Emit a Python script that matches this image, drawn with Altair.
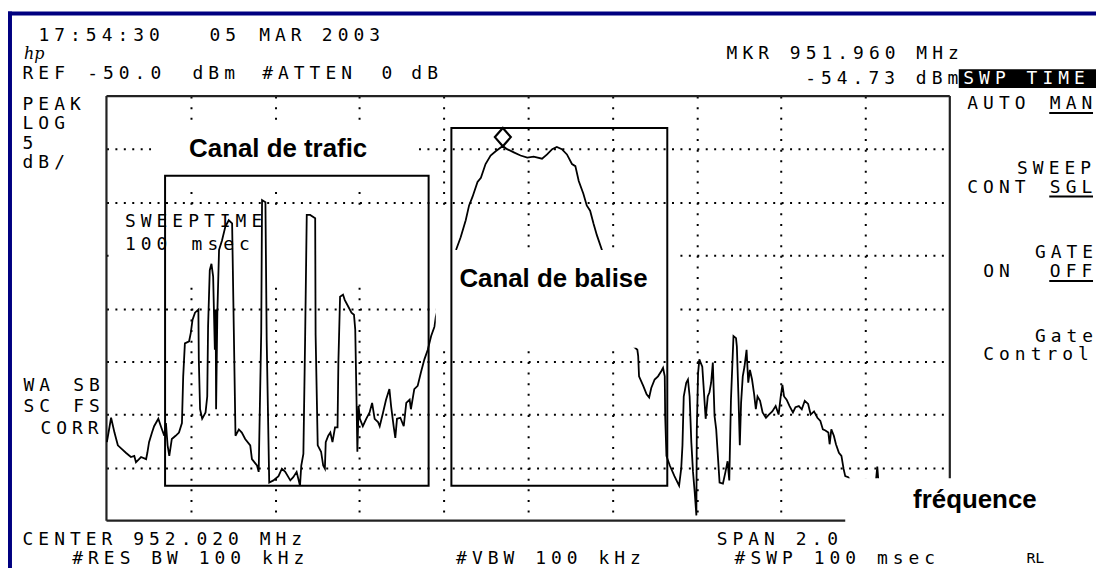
import altair as alt
import pandas as pd

# ---------------- trace ----------------
# frequency in MHz, level in dBm
freq_1 = [951.021, 951.031, 951.039, 951.047, 951.058, 951.066, 951.078, 951.086, 951.090, 951.102,
          951.114, 951.117, 951.121, 951.128, 951.133, 951.143, 951.149, 951.157, 951.161, 951.165,
          951.169, 951.175, 951.184, 951.192, 951.199, 951.202, 951.206, 951.216, 951.220, 951.224,
          951.230, 951.238, 951.239, 951.242, 951.247, 951.255, 951.259, 951.261, 951.265, 951.269,
          951.273, 951.277, 951.279, 951.280, 951.283, 951.287, 951.294, 951.302, 951.310, 951.318,
          951.322, 951.326, 951.334, 951.341, 951.349, 951.361, 951.365, 951.377, 951.381, 951.387,
          951.389, 951.397, 951.400, 951.406, 951.416, 951.428]
level_1 = [-82.6, -80.3, -81.7, -82.9, -83.3, -83.6, -84.0, -83.9, -84.5, -84.0,
           -84.2, -83.6, -82.6, -81.7, -81.1, -80.4, -81.1, -82.0, -80.8, -82.9,
           -83.9, -82.3, -82.0, -81.7, -80.8, -76.4, -73.3, -73.1, -72.3, -71.1,
           -70.4, -70.1, -74.8, -79.5, -80.4, -79.8, -78.3, -71.7, -66.4, -65.8,
           -67.0, -73.9, -70.1, -79.5, -70.4, -64.5, -63.6, -62.3, -61.7, -62.0,
           -72.0, -82.0, -81.4, -81.7, -82.3, -82.9, -84.2, -84.8, -85.4, -72.3,
           -59.8, -60.0, -73.0, -86.4, -86.2, -85.8]

freq_2 = [951.436, 951.444, 951.456, 951.463, 951.471, 951.479, 951.482, 951.487, 951.491, 951.495,
          951.503, 951.515, 951.516, 951.521, 951.529, 951.534, 951.538, 951.540, 951.546, 951.551,
          951.556, 951.562, 951.568, 951.570, 951.574, 951.581, 951.585, 951.593, 951.601, 951.607,
          951.610, 951.613, 951.615, 951.618, 951.621, 951.628, 951.636, 951.644, 951.650, 951.656,
          951.664, 951.668, 951.676, 951.683, 951.691, 951.695, 951.701, 951.705, 951.709, 951.717,
          951.725, 951.731, 951.739, 951.742, 951.750, 951.758, 951.766, 951.774, 951.782, 951.790,
          951.798, 951.801, 951.817, 951.834]
level_2 = [-85.1, -85.4, -86.2, -85.9, -85.4, -86.7, -84.8, -83.7, -73.2, -61.2,
           -61.2, -61.5, -72.5, -82.9, -83.5, -84.8, -85.1, -82.6, -82.0, -81.7,
           -82.6, -81.2, -81.2, -75.1, -68.9, -68.7, -69.2, -69.8, -70.4, -70.6,
           -72.0, -78.6, -83.5, -79.2, -80.4, -81.1, -80.4, -79.8, -78.9, -80.4,
           -80.7, -81.1, -79.8, -78.6, -77.6, -79.2, -81.1, -82.2, -80.4, -80.3,
           -81.1, -78.9, -78.6, -79.5, -77.6, -77.3, -76.0, -74.8, -73.9, -72.6,
           -71.7, -70.8, -68.3, -65.9]

freq_3 = [951.849, 951.860, 951.872, 951.880, 951.888, 951.900, 951.908, 951.919, 951.931, 951.943,
          951.960, 951.970, 951.986, 952.002, 952.018, 952.033, 952.053, 952.065, 952.077, 952.088,
          952.100, 952.112, 952.124, 952.132, 952.140, 952.151, 952.159, 952.167, 952.175, 952.183,
          952.195, 952.218, 952.242, 952.265]
level_3 = [-64.5, -63.3, -61.7, -60.3, -59.5, -58.1, -57.7, -56.4, -55.6, -55.2,
           -54.7, -55.0, -55.3, -55.6, -55.8, -55.7, -55.9, -55.5, -55.0, -54.8,
           -55.0, -55.5, -56.4, -56.6, -58.0, -59.2, -60.3, -60.8, -62.0, -63.1,
           -64.5, -67.8, -71.1, -73.4]

freq_4 = [952.279, 952.281, 952.283, 952.293, 952.301, 952.307, 952.312, 952.320, 952.328, 952.336,
          952.340, 952.344, 952.345, 952.348, 952.356, 952.367, 952.378, 952.383, 952.386, 952.389,
          952.395, 952.399, 952.403, 952.407, 952.411, 952.415, 952.419, 952.420, 952.423, 952.426,
          952.433, 952.436, 952.441, 952.446, 952.450, 952.454, 952.458, 952.462, 952.466]
level_4 = [-73.9, -74.5, -76.4, -77.3, -78.1, -78.4, -77.5, -76.7, -76.4, -75.9,
           -75.6, -76.4, -80.1, -83.9, -84.8, -85.8, -86.7, -85.1, -82.9, -78.3,
           -77.0, -76.7, -78.3, -82.6, -85.4, -87.3, -89.5, -81.4, -76.1, -74.8,
           -75.5, -77.3, -80.4, -78.3, -77.9, -77.0, -75.1, -80.1, -81.4]

freq_5 = [952.474, 952.482, 952.488, 952.493, 952.497, 952.501, 952.507, 952.513, 952.515, 952.519,
          952.522, 952.525, 952.529, 952.533, 952.538, 952.542, 952.546, 952.551, 952.556, 952.560,
          952.564, 952.570, 952.576, 952.584, 952.591, 952.599, 952.607, 952.614, 952.619, 952.623,
          952.627, 952.633, 952.640, 952.648, 952.654, 952.662, 952.669, 952.676, 952.684, 952.690,
          952.698, 952.706, 952.713, 952.719, 952.725, 952.732, 952.735, 952.739, 952.745, 952.750,
          952.757, 952.763, 952.768, 952.772, 952.779, 952.801, 952.824, 952.843, 952.848, 952.853,
          952.890, 952.949, 953.020]
level_5 = [-86.4, -86.5, -85.4, -84.4, -86.2, -78.6, -72.6, -72.8, -73.6, -78.6,
           -82.9, -78.9, -76.4, -75.5, -73.9, -77.0, -75.8, -76.7, -78.1, -79.5,
           -78.3, -78.7, -79.8, -80.3, -80.0, -79.7, -79.2, -80.0, -78.3, -77.2,
           -78.3, -78.6, -79.2, -79.8, -79.3, -79.2, -79.5, -78.7, -79.0, -80.0,
           -79.7, -80.3, -80.6, -81.4, -81.5, -81.7, -82.8, -81.4, -82.0, -82.8,
           -83.6, -83.9, -85.1, -85.8, -85.9, -87.2, -87.9, -87.0, -84.9, -87.5,
           -87.9, -87.8, -88.4]

marker_freq = [951.960]
marker_level = [-54.73]

# graticule (10 x 8 divisions, 0.2 MHz and 5 dB per division)
grid_freq = [951.22, 951.42, 951.62, 951.82, 952.02, 952.22, 952.42, 952.62, 952.82]
grid_level = [-55, -60, -65, -70, -75, -80, -85]
F0, F1 = 951.02, 953.02
L0, L1 = -90.0, -50.0

# annotation boxes (pasted on the screenshot), in MHz / dBm
box_f = [951.159, 951.838]
box_f2 = [951.784, 952.350]
box_l = [-57.5, -53.0]
box_l2 = [-86.7, -86.7]
label_text = ["Canal de trafic", "Canal de balise", "fréquence"]
label_f = [951.216, 951.857, 952.933]
label_l = [-55.7, -68.0, -88.8]

# white patches of the pasted labels
under_f = [951.126, 951.025, 951.805]
under_f2 = [951.754, 951.805, 951.834]
under_l = [-52.3, -60.4, -60.3]
under_l2 = [-58.7, -67.6, -64.5]
over_f = [951.801, 952.772]
over_f2 = [952.371, 953.371]
over_l = [-64.5, -86.0]
over_l2 = [-73.7, -92.5]

# screen annotations of the analyser: (text, left px, baseline px) on the page
screen_lines = [
    ("17:54:30", 38, 40), ("05", 210, 40), ("MAR", 260, 40), ("2003", 323, 40),
    ("REF", 22, 78), ("-50.0", 87, 78), ("dBm", 193, 78), ("#ATTEN", 263, 78), ("0", 383, 78), ("dB", 413, 78),
    ("MKR 951.960 MHz", 730, 58), ("-54.73 dBm", 809, 83),
    ("PEAK", 22, 109), ("LOG", 22, 128.5), ("5", 22, 148), ("dB/", 22, 167.5),
    ("AUTO", 972, 108), ("MAN", 1055, 108),
    ("SWEEP", 1022, 173), ("CONT", 972, 192), ("SGL", 1055, 192),
    ("GATE", 1040, 258), ("ON", 988, 277), ("OFF", 1055, 277),
    ("Gate", 1040, 342), ("Control", 988, 360),
    ("WA", 23, 392), ("SB", 73, 392), ("SC", 23, 413), ("FS", 73, 413), ("CORR", 40, 435),
    ("SWEEPTIME", 125, 227), ("100", 125, 250), ("msec", 192, 250),
    ("CENTER 952.020 MHz", 22, 546), ("SPAN 2.0", 720, 546),
    ("#RES BW 100 kHz", 72, 566), ("#VBW 100 kHz", 458, 566), ("#SWP 100 msec", 738, 566),
]
screen_inverse = [("SWP TIME", 968, 83)]
underlined = [(1055, 1099, 112), (1055, 1099, 196), (1055, 1099, 281)]

# ---------------- layout ----------------
W, H = 848, 427
OX, OY = 107, 95          # page position of the graticule's top-left corner
ADV = 15.9                # character pitch of the screen font
xs = alt.Scale(domain=[F0, F1], nice=False, zero=False)
ys = alt.Scale(domain=[L0, L1], nice=False, zero=False)

freq = freq_1 + freq_2 + freq_3 + freq_4 + freq_5
level = level_1 + level_2 + level_3 + level_4 + level_5
trace_df = pd.DataFrame({"f": freq, "l": level, "i": list(range(len(freq)))})


def fx(field="f"):
    return alt.X(f"{field}:Q", scale=xs, axis=None)


def fy(field="l"):
    return alt.Y(f"{field}:Q", scale=ys, axis=None)


def rect_layer(f, f2, l, l2, **mark):
    df = pd.DataFrame({"f": f, "f2": f2, "l": l, "l2": l2})
    return alt.Chart(df).mark_rect(**mark).encode(
        x=fx(), x2="f2:Q", y=fy(), y2="l2:Q")


mask_under = rect_layer(under_f, under_f2, under_l, under_l2, fill="white")
mask_over = rect_layer(over_f, over_f2, over_l, over_l2, fill="white")
boxes = rect_layer(box_f, box_f2, box_l, box_l2, fill="white", fillOpacity=0,
                   stroke="black", strokeWidth=2)

frame_df = pd.DataFrame({"f": [F0, F0, F1, F0], "f2": [F0, F1, F1, F1],
                         "l": [L1, L1, L1, L0], "l2": [L0, L1, L0, L0]})
frame = alt.Chart(frame_df).mark_rule(color="#222222", strokeWidth=2.2).encode(
    x=fx(), x2="f2:Q", y=fy(), y2="l2:Q")

trace = alt.Chart(trace_df).mark_line(color="black", strokeWidth=1.8).encode(
    x=alt.X("f:Q", scale=xs, title=None,
            axis=alt.Axis(values=grid_freq, grid=True, labels=False, ticks=False, domain=False,
                          gridColor="black", gridWidth=2, gridOpacity=1, gridDash=[2, 8.675])),
    y=alt.Y("l:Q", scale=ys, title=None,
            axis=alt.Axis(values=grid_level, grid=True, labels=False, ticks=False, domain=False,
                          gridColor="black", gridWidth=2, gridOpacity=1, gridDash=[2, 6.48])),
    order="i:Q",
)

marker = alt.Chart(pd.DataFrame({"f": marker_freq, "l": marker_level})).mark_point(
    shape="M0,-2.3L1,-1.15L0,0L-1,-1.15Z", size=256, filled=True, fill="white",
    stroke="black", strokeWidth=2.2, opacity=1).encode(x=fx(), y=fy())

labels = alt.Chart(pd.DataFrame({"f": label_f, "l": label_l, "t": label_text})).mark_text(
    font="Liberation Sans", fontWeight="bold", fontSize=26, align="left",
    baseline="alphabetic", color="black").encode(x=fx(), y=fy(), text="t:N")

# screen font: one glyph per cell
rows = []
for lines, col in ((screen_lines, "black"), (screen_inverse, "white")):
    for text, x0, base in lines:
        for k, ch in enumerate(text):
            if ch != " ":
                rows.append({"px": x0 - OX + k * ADV + 6, "py": base - OY, "ch": ch, "col": col})
chars_df = pd.DataFrame(rows)

swp_box = alt.Chart(pd.DataFrame({"a": [0]})).mark_rect(color="black").encode(
    x=alt.value(964 - OX), x2=alt.value(1102 - OX), y=alt.value(68 - OY), y2=alt.value(87 - OY))

screen = alt.Chart(chars_df).mark_text(
    font="DejaVu Sans Mono", fontSize=18, align="center", baseline="alphabetic").encode(
    x=alt.X("px:Q", scale=None, axis=None),
    y=alt.Y("py:Q", scale=None, axis=None),
    text="ch:N",
    color=alt.Color("col:N", scale=None),
)

ul_df = pd.DataFrame({"px": [u[0] - OX for u in underlined], "px2": [u[1] - OX for u in underlined],
                      "py": [u[2] - OY for u in underlined]})
unders = alt.Chart(ul_df).mark_rule(color="black", strokeWidth=2).encode(
    x=alt.X("px:Q", scale=None, axis=None), x2="px2:Q",
    y=alt.Y("py:Q", scale=None, axis=None))

border_top = alt.Chart(pd.DataFrame({"a": [0]})).mark_rule(color="#000080", strokeWidth=4).encode(
    x=alt.value(8 - OX), x2=alt.value(1104 - OX), y=alt.value(12 - OY))
border_left = alt.Chart(pd.DataFrame({"a": [0]})).mark_rule(color="#000080", strokeWidth=4).encode(
    x=alt.value(10 - OX), y=alt.value(10 - OY), y2=alt.value(578 - OY))

logo = alt.Chart(pd.DataFrame({"a": [0]})).mark_text(
    text="hp", font="DejaVu Serif", fontStyle="italic", fontSize=16, align="left",
    baseline="alphabetic", color="black").encode(x=alt.value(24 - OX), y=alt.value(58 - OY))

rl = alt.Chart(pd.DataFrame({"a": [0]})).mark_text(
    text="RL", font="DejaVu Sans Mono", fontSize=15, align="left",
    baseline="alphabetic", color="black").encode(x=alt.value(1032 - OX), y=alt.value(565 - OY))

chart = alt.layer(
    mask_under, frame, trace, mask_over, boxes, marker, labels,
    swp_box, screen, unders, border_top, border_left, logo, rl,
).resolve_scale(x="independent", y="independent").properties(
    width=W, height=H,
    padding={"left": 99, "top": 87, "right": 147, "bottom": 46},
    autosize=alt.AutoSizeParams(type="none"),
    background="white",
).configure_view(stroke="transparent")

chart.save("out.html", embed_options={"renderer": "svg", "actions": False})
